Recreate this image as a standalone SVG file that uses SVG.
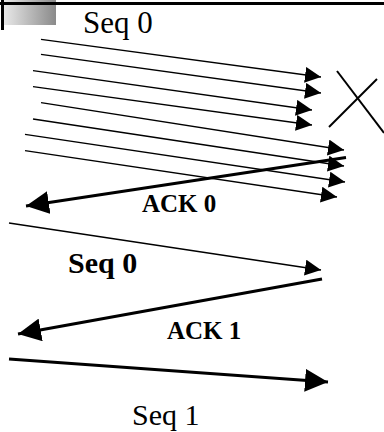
<svg xmlns="http://www.w3.org/2000/svg" width="384" height="432" viewBox="0 0 384 432">
<style>
.t{font-family:"Liberation Serif","Times New Roman",serif;fill:#000}
.b{font-weight:bold}
.thin{stroke:#000;stroke-width:1.3;fill:none}
.thick{stroke:#000;stroke-width:3;fill:none}
</style>
<defs>
<linearGradient id="g" x1="0" y1="0" x2="1" y2="0">
<stop offset="0" stop-color="#e8e8e8"/>
<stop offset="1" stop-color="#8a8a8a"/>
</linearGradient>
<marker id="as" viewBox="0 0 16 16" markerWidth="16" markerHeight="16" refX="16" refY="8" orient="auto" markerUnits="userSpaceOnUse">
<path d="M0,0 L16,8 L0,16 Z" fill="#000"/>
</marker>
<marker id="al" viewBox="0 0 23 23" markerWidth="23" markerHeight="23" refX="23" refY="11.5" orient="auto" markerUnits="userSpaceOnUse">
<path d="M0,0 L23,11.5 L0,23 Z" fill="#000"/>
</marker>
</defs>
<rect width="384" height="432" fill="#fff"/>
<g id="header">
<rect x="4" y="0" width="52" height="25" fill="url(#g)"/>
<rect x="0" y="2" width="384" height="3" fill="#000"/>
<rect x="1" y="0" width="3" height="30" fill="#000"/>
</g>
<g id="connectors">
<line class="thin" x1="41" y1="39.3" x2="321" y2="77" marker-end="url(#as)"/>
<line class="thin" x1="41" y1="54.3" x2="321" y2="93" marker-end="url(#as)"/>
<line class="thin" x1="33" y1="70.7" x2="312" y2="110" marker-end="url(#as)"/>
<line class="thin" x1="33" y1="86.7" x2="312" y2="125" marker-end="url(#as)"/>
<line class="thin" x1="41" y1="102.7" x2="344" y2="150" marker-end="url(#as)"/>
<line class="thin" x1="33" y1="119" x2="344" y2="166" marker-end="url(#as)"/>
<line class="thin" x1="25" y1="134.3" x2="345" y2="182" marker-end="url(#as)"/>
<line class="thin" x1="25" y1="150.7" x2="337" y2="197" marker-end="url(#as)"/>
<line class="thick" x1="346" y1="157.5" x2="26" y2="206" marker-end="url(#al)"/>
<line class="thin" x1="9" y1="223" x2="321" y2="270" marker-end="url(#as)"/>
<line class="thick" x1="322" y1="279" x2="18" y2="334" marker-end="url(#al)"/>
<line class="thick" x1="9" y1="359" x2="328" y2="382" marker-end="url(#al)"/>
</g>
<g id="lost">
<line x1="337" y1="71" x2="384" y2="133" stroke="#000" stroke-width="2"/>
<line x1="377" y1="79" x2="329" y2="127" stroke="#000" stroke-width="2"/>
</g>
<g id="label-seq0-top"><text class="t" x="83" y="33" font-size="31">Seq 0</text></g>
<g id="label-ack0"><text class="t b" x="142" y="212" font-size="25">ACK 0</text></g>
<g id="label-seq0"><text class="t b" x="68" y="273" font-size="30">Seq 0</text></g>
<g id="label-ack1"><text class="t b" x="167" y="339" font-size="25">ACK 1</text></g>
<g id="label-seq1"><text class="t" x="132" y="425" font-size="30">Seq 1</text></g>
</svg>
